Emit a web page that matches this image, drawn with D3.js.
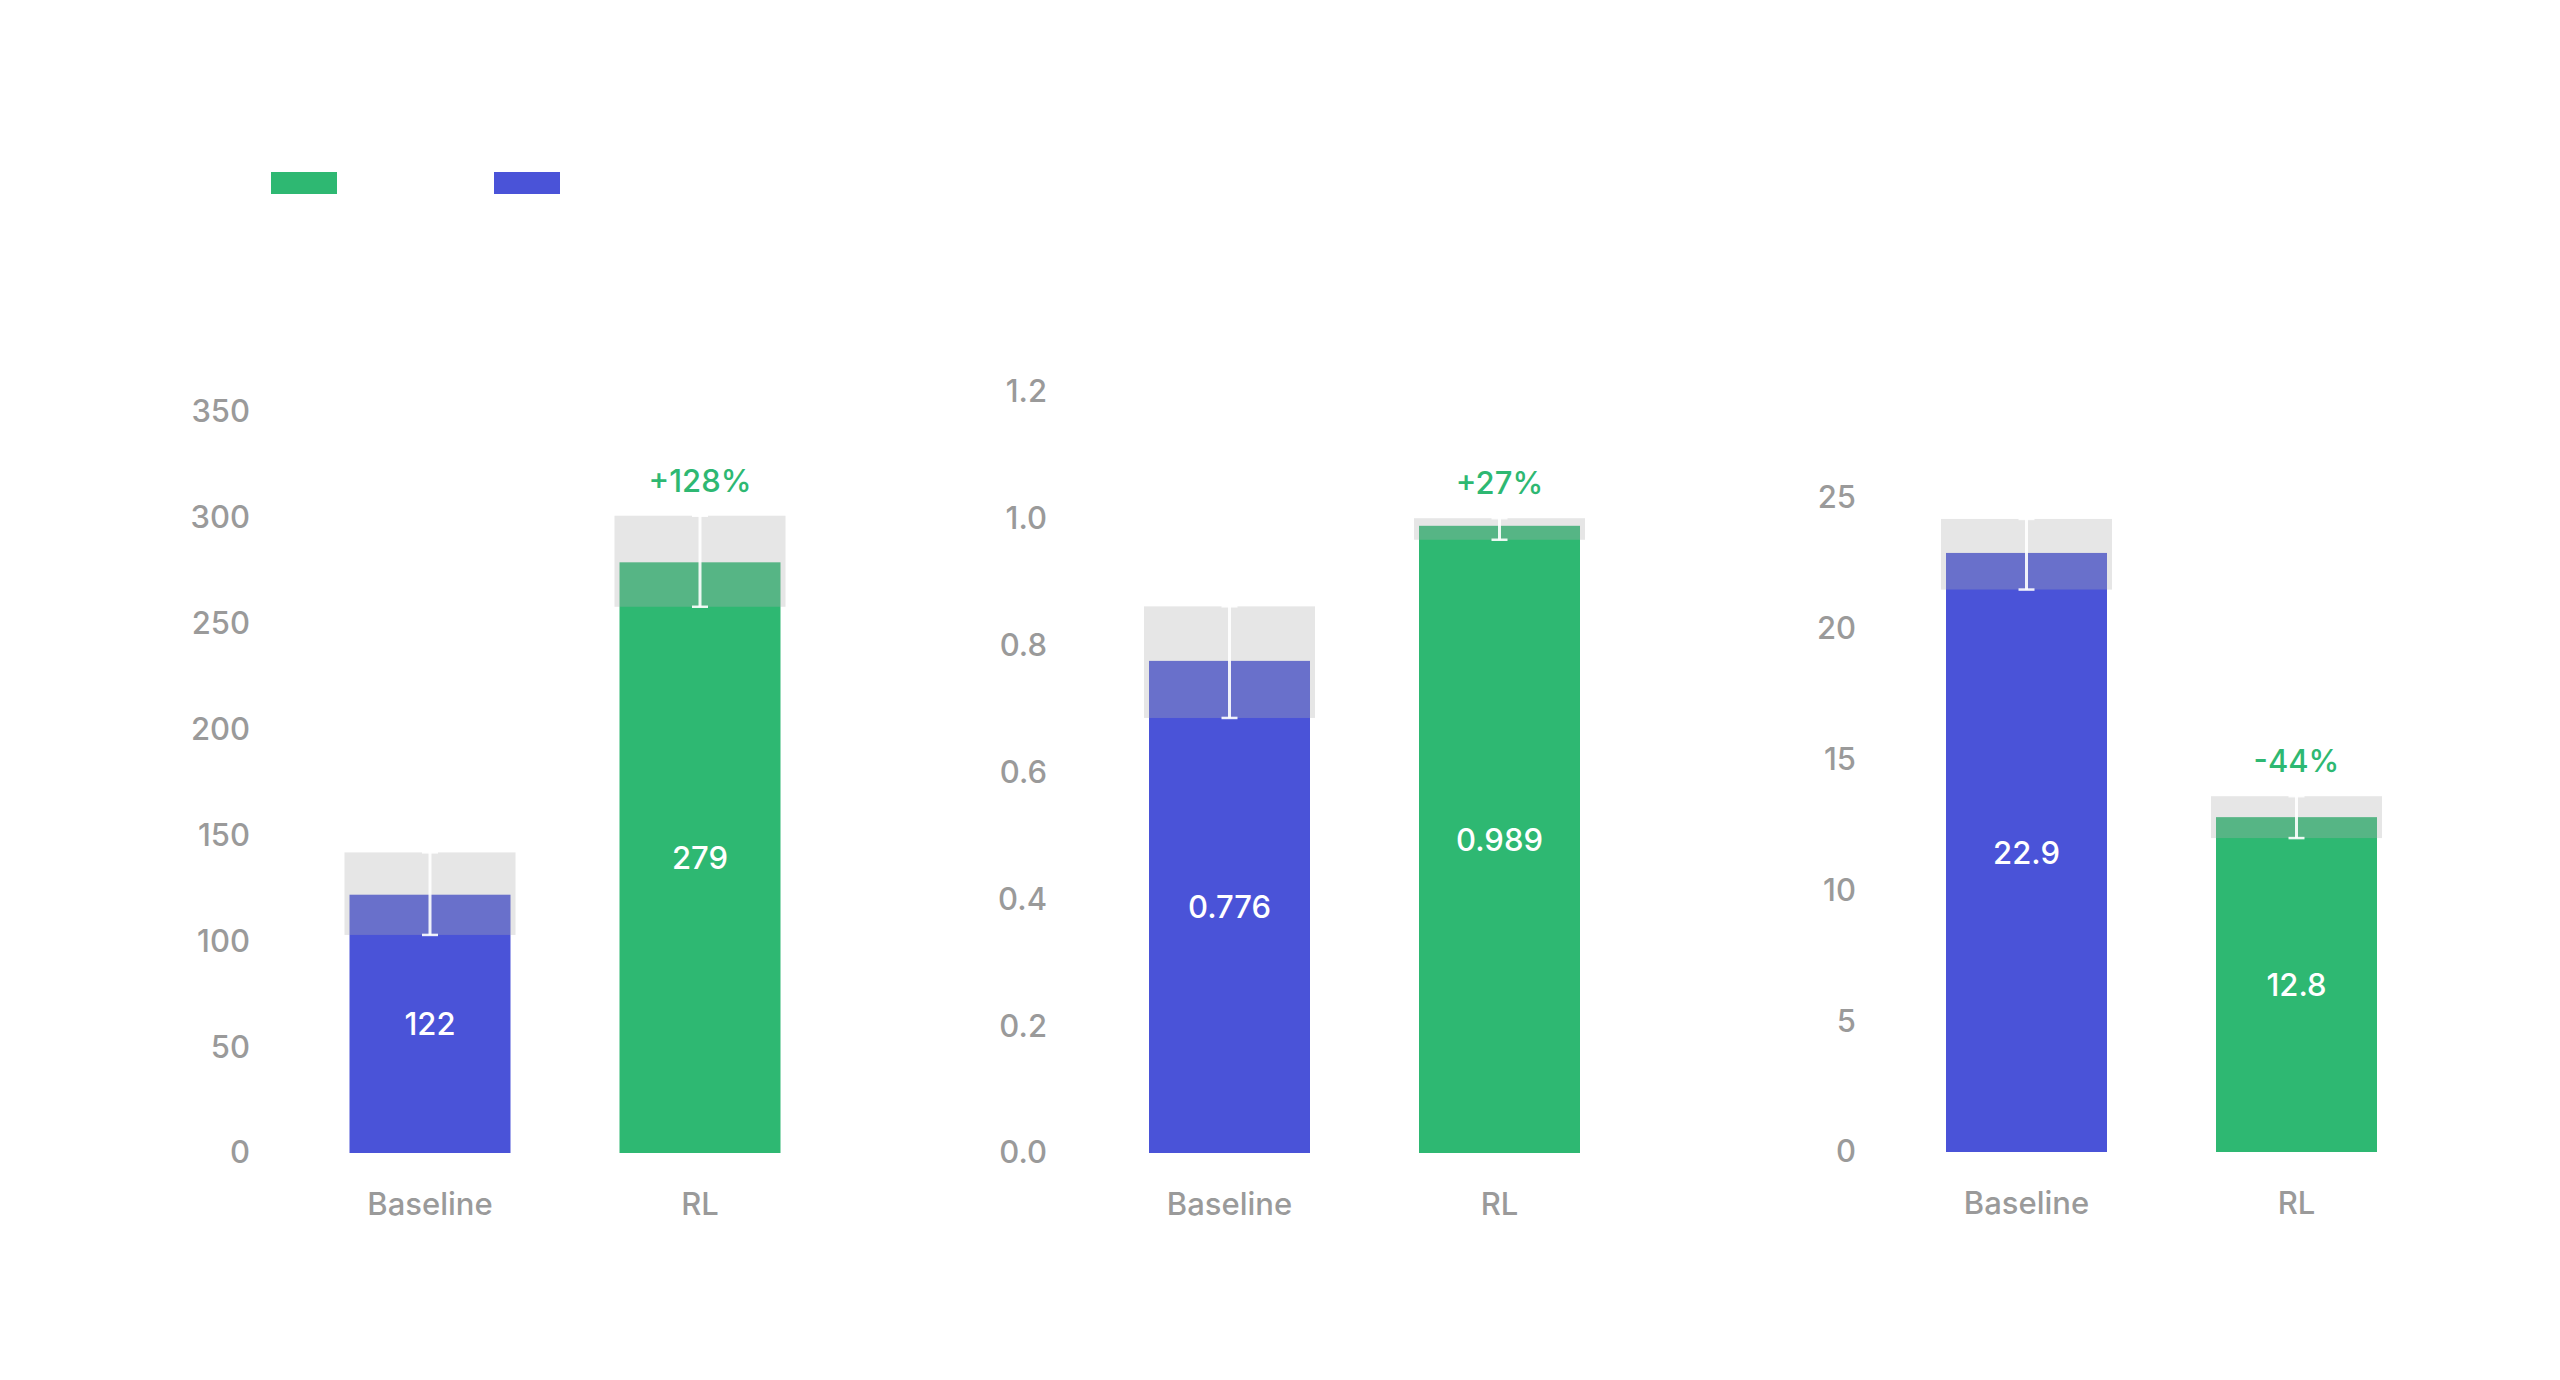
<!DOCTYPE html>
<html><head><meta charset="utf-8">
<script src="https://cdn.jsdelivr.net/npm/d3@7"></script>
<style>
html,body{margin:0;padding:0;background:#fff;}
svg{display:block;font-family:Inter,"Noto Sans",sans-serif;}
</style>
</head><body>
<svg id="chart" width="2560" height="1380"></svg>
<script>
// ---- data ----
const categories = ["Baseline", "RL"];
const legendOrder = ["RL", "Baseline"];
const means  = [[122, 279], [0.776, 0.989], [22.9, 12.8]];
const lowers = [[103, 258], [0.686, 0.967], [21.5, 12.0]];
const uppers = [[142, 301], [0.862, 1.001], [24.2, 13.6]];
const valueLabels = [["122", "279"], ["0.776", "0.989"], ["22.9", "12.8"]];
const changeLabels = ["+128%", "+27%", "-44%"];
const tickValues = [
  [0, 50, 100, 150, 200, 250, 300, 350],
  [0, 0.2, 0.4, 0.6, 0.8, 1.0, 1.2],
  [0, 5, 10, 15, 20, 25]
];
const tickFormats = ["d", ".1f", "d"];

// ---- layout / style ----
const colors = { Baseline: "#4a53d8", RL: "#2eb872" };
const panels = [
  { barLeft: 349.5, axisX: 250,  y0: 1153, yTop: 412 },
  { barLeft: 1149,  axisX: 1047, y0: 1153, yTop: 392 },
  { barLeft: 1946,  axisX: 1856, y0: 1152, yTop: 498 }
];
const step = 270, barW = 161;
const axisFont = "Inter, 'Noto Sans', sans-serif";

const svg = d3.select("#chart");
svg.append("rect").attr("width", 2560).attr("height", 1380).attr("fill", "#fff");

// legend
legendOrder.forEach((k, i) => {
  svg.append("rect")
    .attr("x", 271 + i * 223).attr("y", 172)
    .attr("width", 66).attr("height", 22)
    .attr("fill", colors[k]);
});

panels.forEach((p, pi) => {
  const g = svg.append("g");
  const x = d3.scaleBand().domain(categories)
    .range([p.barLeft, p.barLeft + step + barW])
    .paddingInner(1 - barW / step).paddingOuter(0);
  const ticks = tickValues[pi];
  const y = d3.scaleLinear().domain([0, ticks[ticks.length - 1]]).range([p.y0, p.yTop]);

  // y axis
  const ax = g.append("g").attr("transform", `translate(${p.axisX},0)`)
    .call(d3.axisLeft(y).tickValues(ticks).tickFormat(d3.format(tickFormats[pi])).tickSize(0).tickPadding(0));
  ax.select(".domain").remove();
  ax.selectAll("text").attr("font-size", 31).attr("font-weight", 500).attr("fill", "#9a9a9a")
    .attr("font-family", axisFont);

  // x axis labels
  const xa = g.append("g").attr("transform", `translate(0,${p.y0})`)
    .call(d3.axisBottom(x).tickSize(0).tickPadding(0));
  xa.select(".domain").remove();
  xa.selectAll("text").attr("font-size", 31).attr("font-weight", 500).attr("fill", "#9a9a9a")
    .attr("dy", null).attr("y", 50).attr("dominant-baseline", "central")
    .attr("font-family", axisFont);

  const rows = categories.map((c, i) => ({
    c, m: means[pi][i], lo: lowers[pi][i], hi: uppers[pi][i], label: valueLabels[pi][i]
  }));

  // bars
  g.selectAll(".bar").data(rows).join("rect")
    .attr("x", d => x(d.c)).attr("width", x.bandwidth())
    .attr("y", d => y(d.m)).attr("height", d => y(0) - y(d.m))
    .attr("fill", d => colors[d.c]);

  // error band
  g.selectAll(".band").data(rows).join("rect")
    .attr("x", d => x(d.c) - 5).attr("width", x.bandwidth() + 10)
    .attr("y", d => y(d.hi)).attr("height", d => y(d.lo) - y(d.hi))
    .attr("fill", "rgb(176,176,176)").attr("fill-opacity", 0.315);

  // error whiskers
  const cx = d => x(d.c) + x.bandwidth() / 2;
  g.selectAll(".ev").data(rows).join("line")
    .attr("x1", cx).attr("x2", cx)
    .attr("y1", d => y(d.hi)).attr("y2", d => y(d.lo))
    .attr("stroke", "#fff").attr("stroke-width", 3).attr("stroke-opacity", 0.9);
  ["hi", "lo"].forEach(k => {
    g.selectAll(".cap" + k).data(rows).join("line")
      .attr("x1", d => cx(d) - 8).attr("x2", d => cx(d) + 8)
      .attr("y1", d => y(d[k])).attr("y2", d => y(d[k]))
      .attr("stroke", "#fff").attr("stroke-width", 2.5).attr("stroke-opacity", 0.9);
  });

  // value labels
  g.selectAll(".val").data(rows).join("text")
    .attr("x", cx).attr("y", d => (y(0) + y(d.m)) / 2)
    .attr("text-anchor", "middle").attr("dominant-baseline", "central")
    .attr("font-size", 31).attr("font-weight", 500).attr("fill", "#fff")
    .text(d => d.label);

  // change label above RL
  const rl = rows[1];
  g.append("text")
    .attr("x", cx(rl)).attr("y", y(rl.hi) - 24)
    .attr("text-anchor", "middle")
    .attr("font-size", 31).attr("font-weight", 500).attr("fill", colors.RL)
    .text(changeLabels[pi]);
});
</script>
</body></html>
